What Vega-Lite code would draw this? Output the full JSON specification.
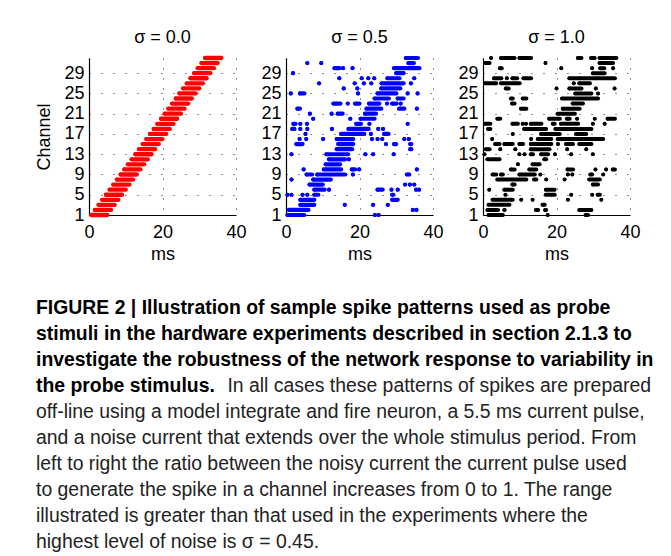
{
  "$schema": "https://vega.github.io/schema/vega-lite/v6.json",
  "padding": {"left": 35, "top": 28, "right": 0, "bottom": 0},
  "background": "white",
  "spacing": 31.5,
  "config": {
    "font": "Liberation Sans",
    "view": {"stroke": null},
    "axis": {
      "labelFont": "Liberation Sans", "labelFontSize": 18, "labelColor": "#000", "labelFlush": false, "labelOverlap": false,
      "titleFont": "Liberation Sans", "titleFontSize": 18, "titleFontWeight": "normal", "titleColor": "#000",
      "domainColor": "#000", "domainWidth": 1.2, "ticks": false, "tickSize": 0,
      "grid": true, "gridColor": "#222", "gridWidth": 1
    },
    "axisX": {"gridDash": [1, 9], "labelPadding": 8, "titlePadding": 4},
    "axisY": {"gridDash": [1, 11], "labelPadding": 5, "titlePadding": 10},
    "title": {"font": "Liberation Sans", "fontSize": 18, "fontWeight": "normal", "color": "#000", "offset": 9}
  },
  "datasets": {
    "s0": [
      {"channel":1,"t0":0.6,"t1":5.0},{"channel":2,"t0":1.6,"t1":6.0},{"channel":3,"t0":2.6,"t1":7.0},{"channel":4,"t0":3.6,"t1":8.0},
      {"channel":5,"t0":4.6,"t1":9.0},{"channel":6,"t0":5.6,"t1":10.0},{"channel":7,"t0":6.6,"t1":11.0},{"channel":8,"t0":7.6,"t1":12.0},
      {"channel":9,"t0":8.6,"t1":13.0},{"channel":10,"t0":9.6,"t1":14.0},{"channel":11,"t0":10.6,"t1":15.0},{"channel":12,"t0":11.6,"t1":16.0},
      {"channel":13,"t0":12.6,"t1":17.0},{"channel":14,"t0":13.6,"t1":18.0},{"channel":15,"t0":14.6,"t1":19.0},{"channel":16,"t0":15.6,"t1":20.0},
      {"channel":17,"t0":16.6,"t1":21.0},{"channel":18,"t0":17.6,"t1":22.0},{"channel":19,"t0":18.6,"t1":23.0},{"channel":20,"t0":19.6,"t1":24.0},
      {"channel":21,"t0":20.6,"t1":25.0},{"channel":22,"t0":21.6,"t1":26.0},{"channel":23,"t0":22.6,"t1":27.0},{"channel":24,"t0":23.6,"t1":28.0},
      {"channel":25,"t0":24.6,"t1":29.0},{"channel":26,"t0":25.6,"t1":30.0},{"channel":27,"t0":26.6,"t1":31.0},{"channel":28,"t0":27.6,"t1":32.0},
      {"channel":29,"t0":28.6,"t1":33.0},{"channel":30,"t0":29.6,"t1":34.0},{"channel":31,"t0":30.6,"t1":35.0},{"channel":32,"t0":31.6,"t1":36.0}
    ],
    "s1": [
      {"channel":32,"t0":32.6,"t1":35.9},
      {"channel":31,"t0":5.8,"t1":5.8},{"channel":31,"t0":9.6,"t1":9.6},{"channel":31,"t0":33.3,"t1":34.8},
      {"channel":30,"t0":13.2,"t1":14.5},{"channel":30,"t0":15.5,"t1":15.5},{"channel":30,"t0":18.1,"t1":18.1},{"channel":30,"t0":29.4,"t1":36.3},
      {"channel":29,"t0":1.9,"t1":1.9},{"channel":29,"t0":30.0,"t1":32.0},
      {"channel":28,"t0":14.5,"t1":14.5},{"channel":28,"t0":20.6,"t1":20.6},{"channel":28,"t0":22.4,"t1":22.4},{"channel":28,"t0":24.0,"t1":24.0},{"channel":28,"t0":27.6,"t1":30.9},{"channel":28,"t0":34.9,"t1":34.9},
      {"channel":27,"t0":9.0,"t1":9.0},{"channel":27,"t0":18.7,"t1":18.7},{"channel":27,"t0":21.2,"t1":21.2},{"channel":27,"t0":23.2,"t1":23.2},{"channel":27,"t0":26.0,"t1":32.0},{"channel":27,"t0":34.0,"t1":34.0},
      {"channel":26,"t0":15.7,"t1":15.7},{"channel":26,"t0":19.4,"t1":19.4},{"channel":26,"t0":25.9,"t1":31.1},
      {"channel":25,"t0":1.3,"t1":1.3},{"channel":25,"t0":3.8,"t1":5.0},{"channel":25,"t0":19.6,"t1":19.6},{"channel":25,"t0":24.9,"t1":30.0},{"channel":25,"t0":33.1,"t1":33.1},{"channel":25,"t0":35.8,"t1":35.8},
      {"channel":24,"t0":24.1,"t1":28.0},{"channel":24,"t0":30.4,"t1":32.0},
      {"channel":23,"t0":12.9,"t1":14.8},{"channel":23,"t0":16.8,"t1":16.8},{"channel":23,"t0":18.8,"t1":20.0},{"channel":23,"t0":22.6,"t1":25.4},{"channel":23,"t0":27.5,"t1":27.5},{"channel":23,"t0":28.9,"t1":30.1},{"channel":23,"t0":31.2,"t1":31.2},
      {"channel":22,"t0":3.1,"t1":3.8},{"channel":22,"t0":21.9,"t1":25.9},{"channel":22,"t0":30.8,"t1":32.2},{"channel":22,"t0":35.6,"t1":35.6},
      {"channel":21,"t0":6.5,"t1":6.5},{"channel":21,"t0":12.4,"t1":12.4},{"channel":21,"t0":14.1,"t1":15.4},{"channel":21,"t0":21.5,"t1":24.5},
      {"channel":20,"t0":7.4,"t1":7.4},{"channel":20,"t0":17.5,"t1":17.5},{"channel":20,"t0":20.3,"t1":24.1},
      {"channel":19,"t0":2.0,"t1":2.6},{"channel":19,"t0":3.9,"t1":3.9},{"channel":19,"t0":5.7,"t1":5.7},{"channel":19,"t0":19.1,"t1":20.4},{"channel":19,"t0":22.7,"t1":22.7},{"channel":19,"t0":33.1,"t1":33.1},
      {"channel":18,"t0":1.7,"t1":2.3},{"channel":18,"t0":3.9,"t1":3.9},{"channel":18,"t0":5.8,"t1":5.8},{"channel":18,"t0":12.5,"t1":12.5},{"channel":18,"t0":17.0,"t1":22.5},{"channel":18,"t0":25.1,"t1":25.1},{"channel":18,"t0":26.4,"t1":26.4},
      {"channel":17,"t0":5.3,"t1":5.3},{"channel":17,"t0":15.0,"t1":21.3},{"channel":17,"t0":23.1,"t1":23.1},{"channel":17,"t0":26.7,"t1":27.9},
      {"channel":16,"t0":3.7,"t1":3.7},{"channel":16,"t0":5.5,"t1":5.5},{"channel":16,"t0":10.1,"t1":10.1},{"channel":16,"t0":13.8,"t1":18.3},{"channel":16,"t0":23.4,"t1":23.4},{"channel":16,"t0":24.9,"t1":24.9},{"channel":16,"t0":26.2,"t1":26.2},{"channel":16,"t0":32.2,"t1":32.2},{"channel":16,"t0":33.4,"t1":33.4},
      {"channel":15,"t0":2.8,"t1":4.5},{"channel":15,"t0":14.2,"t1":18.3},{"channel":15,"t0":27.2,"t1":27.2},{"channel":15,"t0":29.4,"t1":30.0},{"channel":15,"t0":33.8,"t1":34.1},
      {"channel":14,"t0":13.8,"t1":18.0},{"channel":14,"t0":33.8,"t1":34.1},
      {"channel":13,"t0":1.5,"t1":1.5},{"channel":13,"t0":11.0,"t1":16.9},{"channel":13,"t0":21.6,"t1":21.6},{"channel":13,"t0":23.7,"t1":23.7},{"channel":13,"t0":29.3,"t1":29.3},
      {"channel":12,"t0":11.7,"t1":16.1},{"channel":12,"t0":17.1,"t1":17.1},
      {"channel":11,"t0":10.8,"t1":14.7},
      {"channel":10,"t0":4.8,"t1":4.8},{"channel":10,"t0":10.3,"t1":15.0},{"channel":10,"t0":17.9,"t1":18.8},{"channel":10,"t0":19.9,"t1":19.9},{"channel":10,"t0":35.6,"t1":35.6},
      {"channel":9,"t0":5.6,"t1":7.1},{"channel":9,"t0":8.5,"t1":16.1},{"channel":9,"t0":18.2,"t1":18.2},{"channel":9,"t0":32.9,"t1":32.9},{"channel":9,"t0":33.5,"t1":33.5},
      {"channel":8,"t0":1.5,"t1":1.5},{"channel":8,"t0":7.4,"t1":12.2},
      {"channel":7,"t0":6.4,"t1":10.0},{"channel":7,"t0":32.4,"t1":32.4},{"channel":7,"t0":33.7,"t1":33.7},{"channel":7,"t0":34.9,"t1":34.9},
      {"channel":6,"t0":7.7,"t1":10.5},{"channel":6,"t0":11.7,"t1":11.7},{"channel":6,"t0":24.9,"t1":26.3},{"channel":6,"t0":28.7,"t1":28.7},{"channel":6,"t0":30.4,"t1":30.4},{"channel":6,"t0":35.4,"t1":35.4},{"channel":6,"t0":36.2,"t1":36.2},
      {"channel":5,"t0":0.4,"t1":0.4},{"channel":5,"t0":1.5,"t1":1.5},{"channel":5,"t0":4.5,"t1":4.5},{"channel":5,"t0":5.8,"t1":5.8},{"channel":5,"t0":7.7,"t1":8.8},{"channel":5,"t0":28.9,"t1":29.2},
      {"channel":4,"t0":3.9,"t1":7.7},{"channel":4,"t0":28.9,"t1":30.4},
      {"channel":3,"t0":3.9,"t1":7.7},{"channel":3,"t0":16.0,"t1":16.0},{"channel":3,"t0":23.7,"t1":23.7},{"channel":3,"t0":27.7,"t1":27.7},
      {"channel":2,"t0":0.8,"t1":6.1},{"channel":2,"t0":34.5,"t1":34.5},{"channel":2,"t0":35.5,"t1":35.5},
      {"channel":1,"t0":0.4,"t1":5.0},{"channel":1,"t0":24.2,"t1":24.2},{"channel":1,"t0":25.2,"t1":25.2}
    ],
    "s2": [
      {"channel":32,"t0":2.2,"t1":2.2},{"channel":32,"t0":4.9,"t1":8.6},{"channel":32,"t0":9.9,"t1":13.1},{"channel":32,"t0":25.8,"t1":26.8},{"channel":32,"t0":29.4,"t1":30.4},{"channel":32,"t0":31.7,"t1":36.3},
      {"channel":31,"t0":0.6,"t1":1.8},{"channel":31,"t0":17.0,"t1":17.0},{"channel":31,"t0":31.7,"t1":35.4},
      {"channel":30,"t0":4.6,"t1":5.1},{"channel":30,"t0":21.3,"t1":21.3},{"channel":30,"t0":29.7,"t1":29.7},{"channel":30,"t0":31.9,"t1":33.0},{"channel":30,"t0":35.4,"t1":35.4},
      {"channel":29,"t0":29.9,"t1":33.1},
      {"channel":28,"t0":3.0,"t1":5.0},{"channel":28,"t0":6.5,"t1":6.5},{"channel":28,"t0":8.0,"t1":9.3},{"channel":28,"t0":11.0,"t1":13.1},{"channel":28,"t0":23.5,"t1":35.9},
      {"channel":27,"t0":0.6,"t1":3.6},{"channel":27,"t0":4.9,"t1":10.0},{"channel":27,"t0":24.7,"t1":24.7},{"channel":27,"t0":26.2,"t1":29.1},
      {"channel":26,"t0":6.2,"t1":7.0},{"channel":26,"t0":20.0,"t1":20.0},{"channel":26,"t0":23.5,"t1":26.8},{"channel":26,"t0":30.7,"t1":30.7},{"channel":26,"t0":35.8,"t1":35.8},
      {"channel":25,"t0":25.1,"t1":29.5},{"channel":25,"t0":31.3,"t1":31.3},
      {"channel":24,"t0":7.6,"t1":8.1},{"channel":24,"t0":10.8,"t1":11.8},{"channel":24,"t0":21.5,"t1":31.3},
      {"channel":23,"t0":7.9,"t1":8.6},{"channel":23,"t0":24.4,"t1":27.2},
      {"channel":22,"t0":10.3,"t1":11.8},{"channel":22,"t0":21.7,"t1":26.3},
      {"channel":21,"t0":20.3,"t1":25.0},
      {"channel":20,"t0":3.9,"t1":4.7},{"channel":20,"t0":18.0,"t1":20.9},{"channel":20,"t0":22.8,"t1":23.6},{"channel":20,"t0":25.6,"t1":25.6},{"channel":20,"t0":30.4,"t1":30.4},{"channel":20,"t0":33.9,"t1":35.9},
      {"channel":19,"t0":0.6,"t1":2.0},{"channel":19,"t0":8.0,"t1":9.5},{"channel":19,"t0":10.8,"t1":10.8},{"channel":19,"t0":11.7,"t1":11.7},{"channel":19,"t0":13.0,"t1":15.9},{"channel":19,"t0":19.0,"t1":19.5},{"channel":19,"t0":21.2,"t1":25.9},{"channel":19,"t0":29.9,"t1":29.9},{"channel":19,"t0":33.1,"t1":33.1},
      {"channel":18,"t0":1.4,"t1":2.0},{"channel":18,"t0":11.2,"t1":17.2},{"channel":18,"t0":19.7,"t1":29.5},
      {"channel":17,"t0":8.1,"t1":8.1},{"channel":17,"t0":15.8,"t1":20.9},{"channel":17,"t0":25.3,"t1":28.1},
      {"channel":16,"t0":2.5,"t1":2.5},{"channel":16,"t0":13.1,"t1":13.1},{"channel":16,"t0":14.9,"t1":18.6},{"channel":16,"t0":20.3,"t1":32.7},
      {"channel":15,"t0":3.3,"t1":4.5},{"channel":15,"t0":5.8,"t1":8.1},{"channel":15,"t0":9.9,"t1":10.9},{"channel":15,"t0":13.0,"t1":18.6},{"channel":15,"t0":20.4,"t1":20.4},{"channel":15,"t0":22.6,"t1":24.5},{"channel":15,"t0":26.2,"t1":29.5},
      {"channel":14,"t0":0.8,"t1":1.8},{"channel":14,"t0":4.7,"t1":4.7},{"channel":14,"t0":8.8,"t1":8.8},{"channel":14,"t0":13.0,"t1":18.1},{"channel":14,"t0":22.9,"t1":22.9},{"channel":14,"t0":28.1,"t1":28.1},
      {"channel":13,"t0":0.4,"t1":0.4},{"channel":13,"t0":9.9,"t1":9.9},{"channel":13,"t0":11.3,"t1":11.3},{"channel":13,"t0":13.0,"t1":13.6},{"channel":13,"t0":15.8,"t1":17.7},{"channel":13,"t0":19.6,"t1":19.6},{"channel":13,"t0":24.0,"t1":24.0},{"channel":13,"t0":29.9,"t1":29.9},
      {"channel":12,"t0":1.2,"t1":4.5},{"channel":12,"t0":16.7,"t1":17.2},
      {"channel":11,"t0":9.5,"t1":9.5},{"channel":11,"t0":13.5,"t1":15.4},
      {"channel":10,"t0":7.6,"t1":8.6},{"channel":10,"t0":12.6,"t1":14.5},{"channel":10,"t0":23.0,"t1":24.5},{"channel":10,"t0":30.6,"t1":30.6},{"channel":10,"t0":33.5,"t1":33.5},{"channel":10,"t0":35.3,"t1":35.9},
      {"channel":9,"t0":2.6,"t1":3.6},{"channel":9,"t0":4.9,"t1":5.4},{"channel":9,"t0":9.9,"t1":14.1},{"channel":9,"t0":15.6,"t1":15.6},{"channel":9,"t0":23.1,"t1":23.1},{"channel":9,"t0":24.3,"t1":24.3},{"channel":9,"t0":29.2,"t1":29.7},{"channel":9,"t0":32.7,"t1":32.7},
      {"channel":8,"t0":3.9,"t1":11.8},{"channel":8,"t0":13.9,"t1":14.5},{"channel":8,"t0":17.2,"t1":17.2},{"channel":8,"t0":22.2,"t1":22.2},{"channel":8,"t0":28.9,"t1":31.8},
      {"channel":7,"t0":8.0,"t1":8.6},{"channel":7,"t0":29.9,"t1":31.3},
      {"channel":6,"t0":1.7,"t1":1.7},{"channel":6,"t0":5.8,"t1":8.1},{"channel":6,"t0":17.1,"t1":19.5},
      {"channel":5,"t0":6.1,"t1":6.1},{"channel":5,"t0":17.1,"t1":19.5},{"channel":5,"t0":24.0,"t1":24.0},{"channel":5,"t0":29.7,"t1":29.7},{"channel":5,"t0":31.2,"t1":31.8},
      {"channel":4,"t0":2.6,"t1":8.1},{"channel":4,"t0":10.4,"t1":10.4},{"channel":4,"t0":13.5,"t1":13.5},{"channel":4,"t0":23.1,"t1":23.1},{"channel":4,"t0":32.2,"t1":32.2},
      {"channel":3,"t0":1.5,"t1":7.2},{"channel":3,"t0":16.2,"t1":16.8},
      {"channel":2,"t0":1.2,"t1":4.1},{"channel":2,"t0":5.8,"t1":5.9},{"channel":2,"t0":14.4,"t1":15.0},{"channel":2,"t0":16.9,"t1":17.2},{"channel":2,"t0":26.2,"t1":29.5},
      {"channel":1,"t0":1.5,"t1":5.4},{"channel":1,"t0":17.6,"t1":17.6},{"channel":1,"t0":27.9,"t1":28.6}
    ],
    "captionBold": [
      {"line":1,"text":"FIGURE 2 | Illustration of sample spike patterns used as probe"},
      {"line":2,"text":"stimuli in the hardware experiments described in section 2.1.3 to"},
      {"line":3,"text":"investigate the robustness of the network response to variability in"},
      {"line":4,"text":"the probe stimulus."}
    ],
    "captionTail": [
      {"line":4,"text":"In all cases these patterns of spikes are prepared"}
    ],
    "captionNormal": [
      {"line":5,"text":"off-line using a model integrate and fire neuron, a 5.5 ms current pulse,"},
      {"line":6,"text":"and a noise current that extends over the whole stimulus period. From"},
      {"line":7,"text":"left to right the ratio between the noisy current the current pulse used"},
      {"line":8,"text":"to generate the spike in a channel increases from 0 to 1. The range"},
      {"line":9,"text":"illustrated is greater than that used in the experiments where the"},
      {"line":10,"text":"highest level of noise is σ = 0.45."}
    ]
  },
  "vconcat": [
    {
      "hconcat": [
        {
          "width": 147, "height": 157,
          "title": "σ = 0.0",
          "data": {"name": "s0"},
          "encoding": {
            "x": {"field": "t0", "type": "quantitative", "scale": {"domain": [0, 40], "nice": false}, "axis": {"values": [0, 20, 40], "title": "ms"}},
            "y": {"field": "channel", "type": "quantitative", "scale": {"domain": [1, 32], "nice": false, "zero": false}, "axis": {"values": [1, 5, 9, 13, 17, 21, 25, 29], "title": "Channel"}}
          },
          "layer": [
            {"mark": {"type": "rule", "color": "#ff0000", "strokeWidth": 4.3, "strokeCap": "round"}, "encoding": {"x2": {"field": "t1"}}},
            {"mark": {"type": "circle", "color": "#ff0000", "size": 15, "opacity": 1}}
          ]
        },
        {
          "width": 147, "height": 157,
          "title": "σ = 0.5",
          "data": {"name": "s1"},
          "encoding": {
            "x": {"field": "t0", "type": "quantitative", "scale": {"domain": [0, 40], "nice": false}, "axis": {"values": [0, 20, 40], "title": "ms"}},
            "y": {"field": "channel", "type": "quantitative", "scale": {"domain": [1, 32], "nice": false, "zero": false}, "axis": {"values": [1, 5, 9, 13, 17, 21, 25, 29], "title": null}}
          },
          "layer": [
            {"mark": {"type": "rule", "color": "#0000ff", "strokeWidth": 4.2, "strokeCap": "round"}, "encoding": {"x2": {"field": "t1"}}},
            {"mark": {"type": "circle", "color": "#0000ff", "size": 15, "opacity": 1}}
          ]
        },
        {
          "width": 147, "height": 157,
          "title": "σ = 1.0",
          "data": {"name": "s2"},
          "encoding": {
            "x": {"field": "t0", "type": "quantitative", "scale": {"domain": [0, 40], "nice": false}, "axis": {"values": [0, 20, 40], "title": "ms"}},
            "y": {"field": "channel", "type": "quantitative", "scale": {"domain": [1, 32], "nice": false, "zero": false}, "axis": {"values": [1, 5, 9, 13, 17, 21, 25, 29], "title": null}}
          },
          "layer": [
            {"mark": {"type": "rule", "color": "#000000", "strokeWidth": 4.0, "strokeCap": "round"}, "encoding": {"x2": {"field": "t1"}}},
            {"mark": {"type": "circle", "color": "#000000", "size": 13, "opacity": 1}}
          ]
        }
      ],
      "spacing": 50,
      "bounds": "flush"
    },
    {
      "width": 562, "height": 260,
      "encoding": {
        "y": {"field": "line", "type": "quantitative", "scale": {"domain": [0.5, 10.5], "reverse": true}, "axis": null}
      },
      "layer": [
        {
          "data": {"name": "captionBold"},
          "mark": {"type": "text", "align": "left", "baseline": "middle", "font": "Liberation Sans", "fontSize": 19.4, "fontWeight": "bold", "color": "#000", "dx": -53},
          "encoding": {"x": {"value": 0}, "text": {"field": "text"}}
        },
        {
          "data": {"name": "captionTail"},
          "mark": {"type": "text", "align": "right", "baseline": "middle", "font": "Liberation Sans", "fontSize": 19.4, "color": "#222"},
          "encoding": {"x": {"value": "width"}, "text": {"field": "text"}}
        },
        {
          "data": {"name": "captionNormal"},
          "mark": {"type": "text", "align": "left", "baseline": "middle", "font": "Liberation Sans", "fontSize": 19.4, "color": "#222", "dx": -53},
          "encoding": {"x": {"value": 0}, "text": {"field": "text"}}
        }
      ]
    }
  ]
}
